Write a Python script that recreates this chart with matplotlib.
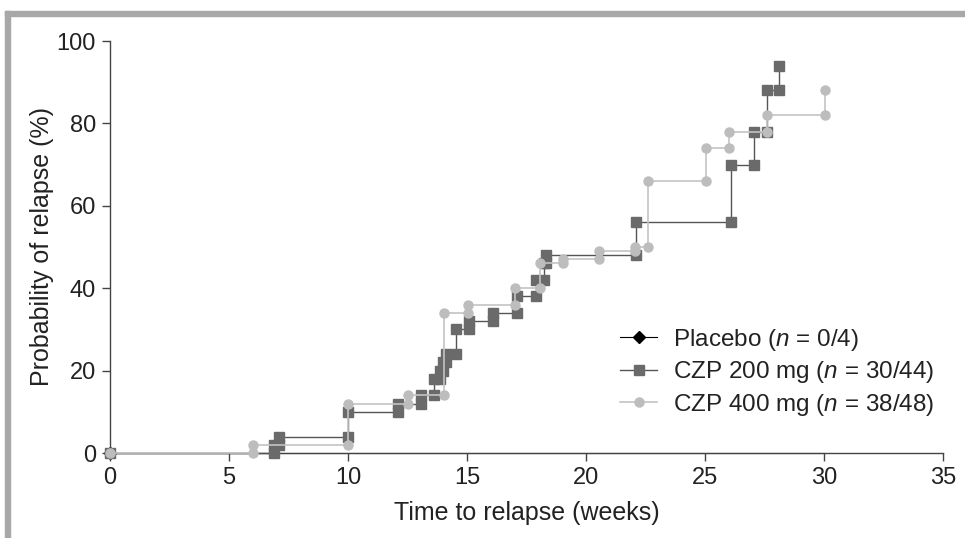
import matplotlib
matplotlib.use("Agg")
import matplotlib.pyplot as plt
from matplotlib.patches import Rectangle

plt.rcParams['font.family'] = ['Liberation Sans', 'DejaVu Sans']
plt.rcParams['mathtext.fontset'] = 'custom'
plt.rcParams['mathtext.it'] = 'Liberation Sans:italic'
plt.rcParams['mathtext.rm'] = 'Liberation Sans'

# event times (weeks) and KM probability after each event (%)
placebo_times = [30.0]
placebo_vals = [0]

czp200_times = [6.9, 7.1, 10.0, 12.1, 13.05, 13.6, 13.85, 14.0, 14.1, 14.55,
                15.1, 16.1, 17.1, 17.9, 18.25, 18.3, 22.1, 26.1, 27.05, 27.6, 28.1]
czp200_vals = [2, 4, 10, 12, 14, 18, 20, 22, 24, 30,
               32, 34, 38, 42, 46, 48, 56, 70, 78, 88, 94]

czp400_times = [6.0, 10.0, 12.5, 14.05, 15.05, 17.0, 18.05, 19.05, 20.55,
                22.05, 22.6, 25.05, 26.0, 27.6, 30.05]
czp400_vals = [2, 12, 14, 34, 36, 40, 46, 47, 49,
               50, 66, 74, 78, 82, 88]

labels = ['Placebo ($n$ = 0/4)', 'CZP 200 mg ($n$ = 30/44)', 'CZP 400 mg ($n$ = 38/48)']


def step_vertices(times, vals):
    xs, ys = [0], [0]
    prev = 0
    for t, v in zip(times, vals):
        xs += [t, t]
        ys += [prev, v]
        prev = v
    return xs, ys


fig = plt.figure(figsize=(9.65, 5.38), dpi=100)

# grey bracket frame at top and left
fig.patches.append(Rectangle((5 / 965, 1 - 16 / 538), 1, 5 / 538, transform=fig.transFigure,
                             color='#a8a8a8', zorder=0))
fig.patches.append(Rectangle((5 / 965, 0), 5 / 965, 1 - 11 / 538, transform=fig.transFigure,
                             color='#a8a8a8', zorder=0))

ax = fig.add_axes([110 / 965, 85 / 538, 833 / 965, 412 / 538])

# placebo: no events, line sits on zero
ax.plot([0, placebo_times[0]], [0, placebo_vals[0]], color='black', lw=0.8, marker='D',
        markersize=6, markevery=[0], label=labels[0], zorder=1, clip_on=False)

x2, y2 = step_vertices(czp200_times, czp200_vals)
ax.plot(x2, y2, color='#555555', lw=1.0, marker='s', markersize=7, markerfacecolor='#6a6a6a',
        markeredgecolor='#6a6a6a', label=labels[1], zorder=3, clip_on=False)

x4, y4 = step_vertices(czp400_times, czp400_vals)
ax.plot(x4, y4, color='#c4c4c4', lw=1.2, marker='o', markersize=6.5, markerfacecolor='#bdbdbd',
        markeredgecolor='#bdbdbd', label=labels[2], zorder=4, clip_on=False)

ax.set_xlim(0, 35)
ax.set_ylim(0, 100)
ax.set_xticks(range(0, 36, 5))
ax.set_yticks(range(0, 101, 20))
for s in ['top', 'right']:
    ax.spines[s].set_visible(False)
for s in ['left', 'bottom']:
    ax.spines[s].set_color('#444444')
    ax.spines[s].set_linewidth(1.0)
    ax.spines[s].set_zorder(2)
ax.tick_params(direction='out', length=6, width=1.0, color='#444444', labelsize=17,
               labelcolor='#222222', pad=4)

ax.set_xlabel('Time to relapse (weeks)', fontsize=18, color='#222222', labelpad=9)
ax.set_ylabel('Probability of relapse (%)', fontsize=18, color='#222222', labelpad=2)

ax.legend(loc='upper left', bbox_to_anchor=(0.601, 0.33), frameon=False, fontsize=17.5,
          handlelength=1.5, handletextpad=0.65, labelspacing=0.27, borderaxespad=0,
          labelcolor='#222222')

fig.savefig('out.png', dpi=100)
